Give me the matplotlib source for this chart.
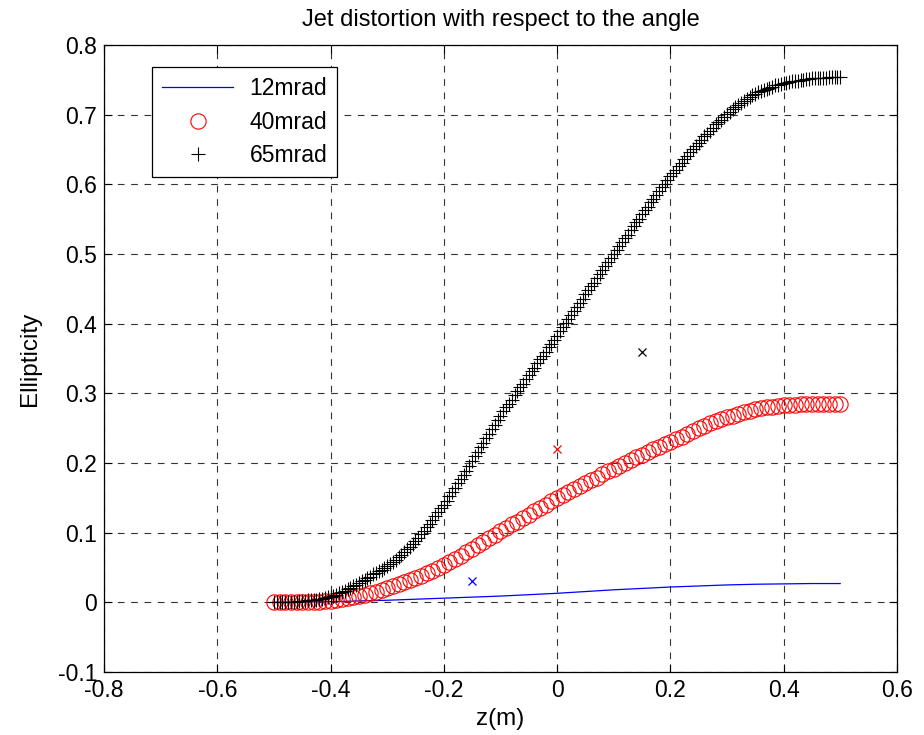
"""Jet distortion (ellipticity) versus z for three crossing angles."""
import matplotlib
matplotlib.use("Agg")
import matplotlib.pyplot as plt
import numpy as np

plt.rcParams["font.family"] = ["Liberation Sans", "DejaVu Sans"]

# 65 mrad samples, z from -0.5 to 0.5 m every 5 mm
z_65 = np.linspace(-0.5, 0.5, 201)
ell_65 = [
    0.000, 0.000, 0.000, 0.000, 0.000, 0.001, 0.001, 0.001, 0.001, 0.002,
    0.002, 0.002, 0.003, 0.003, 0.004, 0.004, 0.005, 0.005, 0.006, 0.007,
    0.008, 0.009, 0.011, 0.013, 0.015, 0.017, 0.019, 0.021, 0.023, 0.025,
    0.028, 0.030, 0.032, 0.035, 0.037, 0.040, 0.042, 0.045, 0.047, 0.050,
    0.052, 0.055, 0.058, 0.061, 0.065, 0.068, 0.072, 0.076, 0.080, 0.084,
    0.088, 0.093, 0.098, 0.103, 0.108, 0.113, 0.118, 0.124, 0.129, 0.135,
    0.140, 0.146, 0.152, 0.158, 0.164, 0.171, 0.177, 0.183, 0.189, 0.196,
    0.203, 0.210, 0.216, 0.223, 0.229, 0.236, 0.242, 0.249, 0.255, 0.262,
    0.268, 0.274, 0.280, 0.285, 0.291, 0.297, 0.303, 0.309, 0.314, 0.320,
    0.326, 0.332, 0.337, 0.343, 0.349, 0.354, 0.360, 0.366, 0.371, 0.377,
    0.383, 0.389, 0.395, 0.401, 0.407, 0.413, 0.418, 0.424, 0.430, 0.436,
    0.442, 0.448, 0.454, 0.459, 0.465, 0.471, 0.477, 0.483, 0.488, 0.494,
    0.500, 0.506, 0.511, 0.517, 0.523, 0.528, 0.534, 0.540, 0.546, 0.551,
    0.557, 0.563, 0.568, 0.574, 0.579, 0.585, 0.590, 0.596, 0.601, 0.607,
    0.612, 0.617, 0.621, 0.626, 0.631, 0.636, 0.641, 0.646, 0.651, 0.655,
    0.660, 0.664, 0.669, 0.673, 0.677, 0.681, 0.686, 0.690, 0.693, 0.697,
    0.701, 0.704, 0.708, 0.711, 0.714, 0.717, 0.720, 0.723, 0.725, 0.728,
    0.730, 0.732, 0.734, 0.736, 0.737, 0.739, 0.740, 0.742, 0.743, 0.744,
    0.745, 0.746, 0.747, 0.748, 0.748, 0.749, 0.750, 0.750, 0.751, 0.751,
    0.752, 0.752, 0.753, 0.753, 0.753, 0.753, 0.754, 0.754, 0.754, 0.754,
    0.754,
]

# 40 mrad samples, every 10 mm
z_40 = np.linspace(-0.5, 0.5, 101)
ell_40 = [
    0.000, 0.000, 0.000, 0.000, 0.000, 0.000, 0.000, 0.001, 0.001, 0.002,
    0.002, 0.003, 0.005, 0.006, 0.008, 0.009, 0.011, 0.013, 0.015, 0.018,
    0.020, 0.023, 0.026, 0.029, 0.032, 0.035, 0.038, 0.042, 0.045, 0.049,
    0.053, 0.058, 0.062, 0.067, 0.072, 0.077, 0.082, 0.087, 0.092, 0.097,
    0.102, 0.107, 0.112, 0.116, 0.121, 0.126, 0.131, 0.136, 0.140, 0.145,
    0.150, 0.154, 0.158, 0.163, 0.167, 0.171, 0.175, 0.179, 0.184, 0.188,
    0.192, 0.196, 0.200, 0.204, 0.208, 0.212, 0.216, 0.220, 0.223, 0.227,
    0.230, 0.234, 0.238, 0.242, 0.246, 0.250, 0.253, 0.257, 0.260, 0.263,
    0.266, 0.268, 0.271, 0.273, 0.275, 0.277, 0.279, 0.280, 0.281, 0.282,
    0.283, 0.284, 0.284, 0.285, 0.285, 0.285, 0.285, 0.285, 0.285, 0.285,
    0.285,
]

# 12 mrad curve (plotted as a line)
z_12 = [-0.50, -0.45, -0.40, -0.35, -0.30, -0.25, -0.20, -0.15, -0.10, -0.05,
        0.00, 0.05, 0.10, 0.15, 0.20, 0.25, 0.30, 0.35, 0.40, 0.45, 0.50]
ell_12 = [0.000, 0.0005, 0.001, 0.002, 0.003, 0.0045, 0.006, 0.0075, 0.009, 0.011,
          0.013, 0.0155, 0.018, 0.020, 0.022, 0.0235, 0.025, 0.026, 0.0265, 0.027,
          0.027]

# single reference points (x markers)
pts_z = [-0.15, 0.00, 0.15]
pts_ell = [0.03, 0.22, 0.36]
pts_col = ["b", "r", "k"]

fig = plt.figure(figsize=(9.24, 7.35), dpi=100)
ax = fig.add_axes([0.1126, 0.0857, 0.858, 0.853])

ax.plot(z_12, ell_12, color="b", linewidth=0.9, label="12mrad")
ax.plot(z_40, ell_40, linestyle="none", marker="o", markersize=11,
        markerfacecolor="none", markeredgecolor="r", markeredgewidth=0.8,
        label="40mrad")
ax.plot(z_65, ell_65, linestyle="none", marker="+", markersize=10.5,
        color="k", markeredgewidth=0.8, label="65mrad")
for px, py, c in zip(pts_z, pts_ell, pts_col):
    ax.plot(px, py, linestyle="none", marker="x", markersize=6,
            color=c, markeredgewidth=0.9)

ax.set_xlim(-0.8, 0.6)
ax.set_ylim(-0.1, 0.8)
ax.set_xticks(np.round(np.arange(-0.8, 0.61, 0.2), 1))
ax.set_yticks(np.round(np.arange(-0.1, 0.81, 0.1), 1))
ax.set_xticklabels(["-0.8", "-0.6", "-0.4", "-0.2", "0", "0.2", "0.4", "0.6"])
ax.set_yticklabels(["-0.1", "0", "0.1", "0.2", "0.3", "0.4", "0.5", "0.6", "0.7", "0.8"])
ax.tick_params(direction="in", top=True, right=True, labelsize=16.5,
               length=6, width=0.8, pad=5)
ax.grid(True, color="0.2", linestyle=(0, (6, 6)), linewidth=0.8)
for s in ax.spines.values():
    s.set_linewidth(0.9)

ax.set_title("Jet distortion with respect to the angle", fontsize=17, pad=14)
ax.set_xlabel("z(m)", fontsize=17.5, labelpad=4)
ax.set_ylabel("Ellipticity", fontsize=17.5, labelpad=12)

leg = ax.legend(loc="upper left", bbox_to_anchor=(0.0605, 0.965), borderaxespad=0,
                fontsize=16.5, fancybox=False, framealpha=1, edgecolor="k",
                handlelength=3.1, borderpad=0.45, labelspacing=0.45,
                handletextpad=0.7)
leg.get_frame().set_linewidth(0.9)

fig.savefig("out.png", dpi=100)
